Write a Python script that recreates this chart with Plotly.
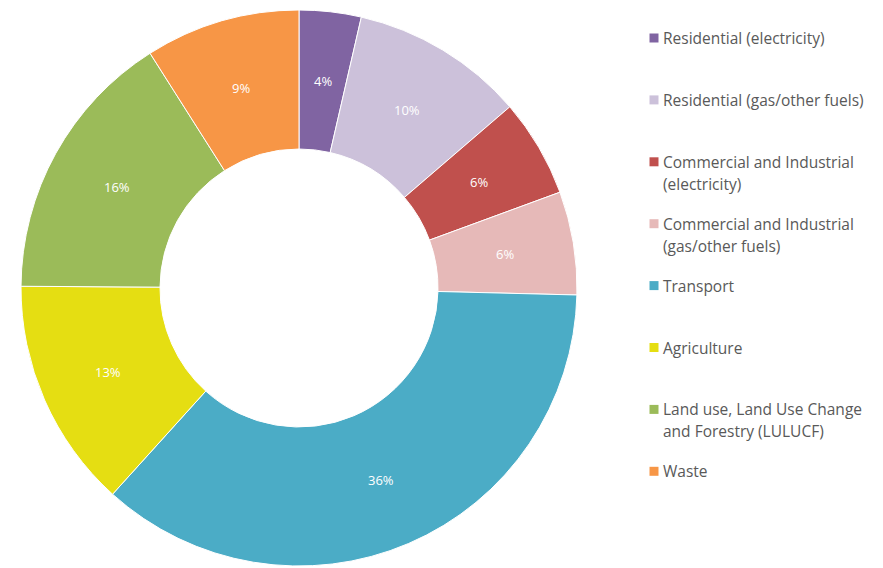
import math
import plotly.graph_objects as go

categories = [
    "Residential (electricity)",
    "Residential (gas/other fuels)",
    "Commercial and Industrial\n(electricity)",
    "Commercial and Industrial\n(gas/other fuels)",
    "Transport",
    "Agriculture",
    "Land use, Land Use Change\nand Forestry (LULUCF)",
    "Waste",
]
shares = [3.6, 10.1, 5.7, 6.0, 36.3, 13.4, 15.9, 9.0]
slice_labels = ["4%", "10%", "6%", "6%", "36%", "13%", "16%", "9%"]
colors = ["#8064A2", "#CCC1DA", "#C0504D", "#E6B9B8", "#4BACC6", "#E5DE12", "#9BBB59", "#F79646"]

W, H = 883, 568
MT, MB = 10, 2
CX, CY, R_OUT, HOLE = 299, 288, 278, 0.5

fig = go.Figure(go.Pie(
    labels=[c.replace("\n", " ") for c in categories],
    values=shares,
    textinfo="none",
    hole=HOLE,
    sort=False,
    direction="clockwise",
    rotation=0,
    marker=dict(colors=colors, line=dict(color="white", width=1)),
    domain=dict(x=[(CX - R_OUT) / W, (CX + R_OUT) / W], y=[0, 1]),
    showlegend=False,
    hoverinfo="label+percent",
))

def px_x(x):
    return x / W

def px_y(y):
    return (H - MB - y) / (H - MT - MB)

annotations = []
shapes = []

# slice percentage labels at mid-ring radius on each slice bisector
total = sum(shares)
cum = 0.0
r_mid = R_OUT * (1 + HOLE) / 2
for v, t in zip(shares, slice_labels):
    ang = 2 * math.pi * (cum + v / 2) / total
    cum += v
    annotations.append(dict(text=t, xref="paper", yref="paper",
                            x=px_x(CX + r_mid * math.sin(ang)),
                            y=px_y(CY - r_mid * math.cos(ang)),
                            xanchor="center", yanchor="middle", showarrow=False,
                            font=dict(family="Open Sans", size=13, color="white")))

# legend
for i, (name, col) in enumerate(zip(categories, colors)):
    yc = 38 + i * 61.9
    shapes.append(dict(type="rect", xref="paper", yref="paper",
                       x0=px_x(649.5), x1=px_x(658.5), y0=px_y(yc + 4.5), y1=px_y(yc - 4.5),
                       fillcolor=col, line=dict(width=0)))
    for j, line in enumerate(name.split("\n")):
        annotations.append(dict(text=line, xref="paper", yref="paper",
                                x=px_x(661), y=px_y(yc + j * 22),
                                xanchor="left", yanchor="middle", showarrow=False,
                                font=dict(family="Open Sans", size=15.5, color="#595959")))

fig.update_layout(
    width=W, height=H,
    margin=dict(l=0, r=0, t=MT, b=MB),
    paper_bgcolor="white", plot_bgcolor="white",
    annotations=annotations, shapes=shapes,
)

fig.write_html("out.html")
